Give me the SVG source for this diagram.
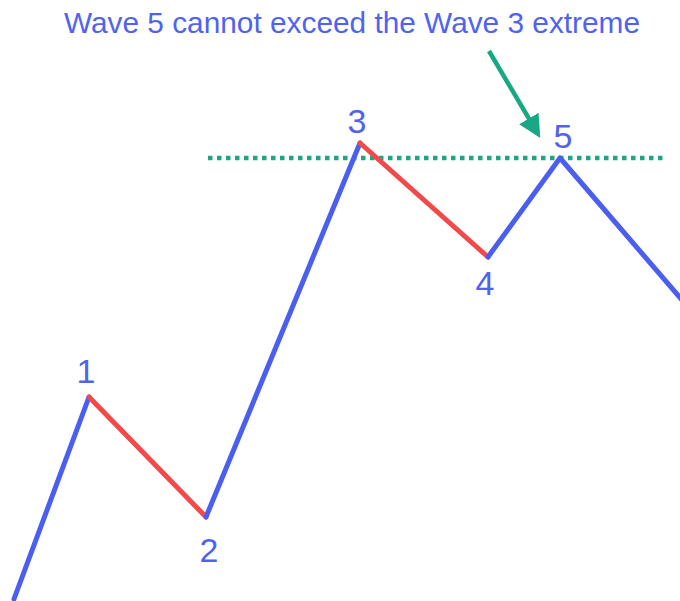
<svg xmlns="http://www.w3.org/2000/svg" width="680" height="601" viewBox="0 0 680 601">
<style>
.lbl{font-family:"Liberation Sans",Arial,sans-serif;fill:#4f63ee;text-anchor:middle}
.up{stroke:#4a5ff0;stroke-width:5;fill:none;stroke-linecap:round;stroke-linejoin:round}
.dn{stroke:#f24a4a;stroke-width:5;fill:none;stroke-linecap:round}
</style>
<defs>
<marker id="ah" markerWidth="5" markerHeight="5" refX="4" refY="2.5" orient="auto" markerUnits="strokeWidth">
<path d="M0,0 L5,2.5 L0,5 Z" fill="#1aa884"/>
</marker>
</defs>
<rect width="680" height="601" fill="#ffffff"/>
<g id="title"><text class="lbl" x="352" y="33" font-size="30" textLength="576" lengthAdjust="spacingAndGlyphs">Wave 5 cannot exceed the Wave 3 extreme</text></g>
<g id="connectors">
<line x1="208" y1="158" x2="665" y2="158" stroke="#1aa884" stroke-width="4.5" stroke-dasharray="4.5 4.5"/>
<line x1="489" y1="51" x2="538" y2="134" stroke="#1aa884" stroke-width="4.5" marker-end="url(#ah)"/>
<polyline class="up" points="14,599 89,397"/>
<polyline class="dn" points="89,397 206,517"/>
<polyline class="up" points="206,517 360,143"/>
<polyline class="dn" points="360,143 488,257"/>
<polyline class="up" points="488,257 560,158 682,300"/>
</g>
<g id="n1"><text class="lbl" x="86" y="383" font-size="34">1</text></g>
<g id="n2"><text class="lbl" x="209" y="562" font-size="34">2</text></g>
<g id="n3"><text class="lbl" x="357" y="133" font-size="34">3</text></g>
<g id="n4"><text class="lbl" x="485" y="295" font-size="34">4</text></g>
<g id="n5"><text class="lbl" x="563" y="148" font-size="34">5</text></g>
</svg>
